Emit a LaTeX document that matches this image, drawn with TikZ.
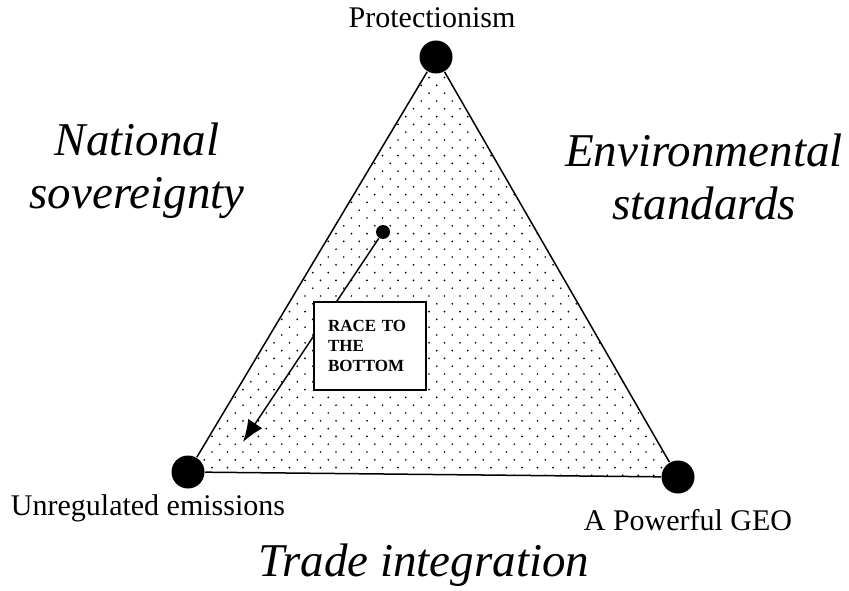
\documentclass[tikz,border=0pt]{standalone}
\usepackage{fontspec}
\setmainfont{Liberation Serif}
\usetikzlibrary{arrows.meta}
\begin{document}
\begin{tikzpicture}[x=1pt,y=-1pt,line width=1.5pt,
  corner/.style={circle,fill=black,inner sep=0pt,minimum size=33pt},
  side/.style={font=\fontsize{47}{53}\selectfont\itshape,align=center},
  tag/.style={font=\fontsize{30}{34}\selectfont}]
  \useasboundingbox (0,0) rectangle (849,591);
  % stippled inside of the triangle
  \begin{scope}
    \clip (436,57) -- (188,472) -- (678,477) -- cycle;
    \foreach \r in {0,...,53}{
      \foreach \c in {0,...,33}{
        \fill ({181+15.5*\c+7.75*mod(\r,2)},{62+7.8*\r}) circle (0.95);
      }
    }
  \end{scope}
  \draw (436,57) node[corner](prot){};
  \draw (188,472) node[corner](unreg){};
  \draw (678,477) node[corner](geo){};
  \draw (prot) -- (unreg) -- (geo) -- (prot);
  \node[tag] at (432,18) {Protectionism};
  \node[tag] at (148,508) {Unregulated emissions};
  \node[tag] at (688,520) {A Powerful GEO};
  \node[side] at (137,171) {National\\sovereignty};
  \node[side] at (704,177) {Environmental\\standards};
  \node[side] at (424,565) {Trade integration};
  % race to the bottom
  \draw (383,232) node[circle,fill,inner sep=0pt,minimum size=14pt](start){};
  \coordinate (end) at (243,442);
  \draw[-{Latex[length=22pt,width=17pt]}] (start) -- (end);
  \node[draw,fill=white,text width=84pt,inner xsep=14pt,minimum height=88pt,
    align=left,font=\fontsize{17}{20}\selectfont\bfseries] (race) at (370,346)
    {RACE TO\\THE\\BOTTOM};
\end{tikzpicture}
\end{document}
